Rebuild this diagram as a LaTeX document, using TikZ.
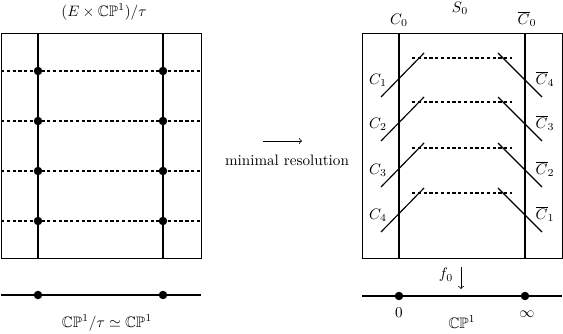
\documentclass[tikz,border=0pt]{standalone}
\usepackage{amssymb}
\begin{document}
\begin{tikzpicture}[x=0.66pt,y=-0.66pt,
  boxline/.style={line width=0.6pt},
  fibreline/.style={line width=1.7pt},
  baseline/.style={line width=1.1pt},
  dashline/.style={line width=0.7pt,dash pattern=on 2.2pt off 1.6pt},
  slantline/.style={line width=0.75pt},
  blob/.style={circle,fill=black,inner sep=0pt,minimum size=5.6pt},
  lab/.style={inner sep=1pt}]
\useasboundingbox (0,0) rectangle (563,333);
% ---------- left picture ----------
\draw[boxline] (1,33) rectangle (201,258);
\foreach \y in {71,121,171,221}{
  \draw[dashline] (1,\y) -- (201,\y);
}
\draw[fibreline] (38,33) -- (38,258);
\draw[fibreline] (163,33) -- (163,258);
\foreach \y in {71,121,171,221}{
  \node[blob] at (38,\y) {};
  \node[blob] at (163,\y) {};
}
\coordinate (bl1) at (1,295);
\coordinate (bl2) at (201,295);
\draw[baseline] (bl1) -- (bl2);
\node[blob] (p1) at (38,295) {};
\node[blob] (p2) at (163,295) {};
\node[lab] (tl) at (104,12) {$(E\times\mathbb{CP}^1)/\tau$};
\node[lab] (bl) at (107,323) {$\mathbb{CP}^1/\tau\simeq\mathbb{CP}^1$};
% ---------- middle ----------
\coordinate (ma) at (263,141);
\coordinate (mb) at (302,141);
\draw[line width=0.5pt,->] (ma) -- (mb);
\node[lab] (mr) at (287,160) {minimal resolution};
% ---------- right picture ----------
\draw[boxline] (362,33) rectangle (562,258);
\draw[fibreline] (399,33) -- (399,258);
\draw[fibreline] (525,33) -- (525,258);
\foreach \d/\i/\j in {58/1/4,102/2/3,148/3/2,193/4/1}{
  \draw[slantline] (381,\d+39) -- (424,\d-5);
  \draw[dashline] (412,\d) -- (512,\d);
  \draw[slantline] (498,\d-5) -- (542,\d+39);
  \node[lab] at (378,\d+22) {$C_{\i}$};
  \node[lab] at (545,\d+21) {$\overline{C}_{\j}$};
}
\node[lab] (c0) at (399,20) {$C_0$};
\node[lab] (cb0) at (527,19) {$\overline{C}_0$};
\node[lab] (s0) at (460,8) {$S_0$};
\coordinate (br1) at (362,296);
\coordinate (br2) at (562,296);
\draw[baseline] (br1) -- (br2);
\node[blob] (q1) at (399,296) {};
\node[blob] (q2) at (525,296) {};
\node[lab] (z) at (399,313) {$0$};
\node[lab] (inf) at (527,314) {$\infty$};
\node[lab] (cp) at (462,322) {$\mathbb{CP}^1$};
\node[lab] (f0) at (446,275) {$f_0$};
\coordinate (fa) at (461,267);
\coordinate (fb) at (461,289);
\draw[line width=0.5pt,->] (fa) -- (fb);
\end{tikzpicture}
\end{document}
